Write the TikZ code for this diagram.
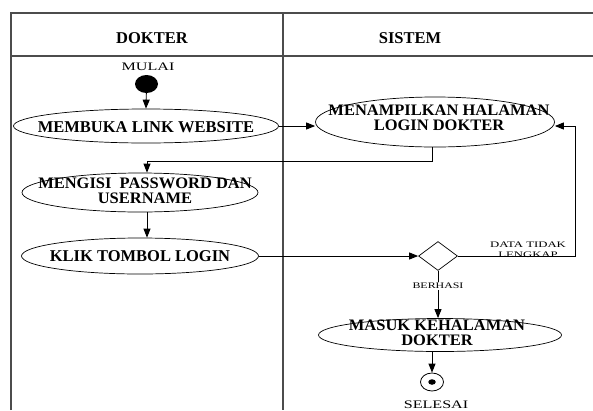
\documentclass[tikz,border=0pt]{standalone}
\usepackage{fontspec}
\usepackage{graphicx}
\setmainfont{Liberation Serif}
\usetikzlibrary{shapes.geometric,arrows.meta}
\newcommand\stretchtxt[2]{\scalebox{#1}[1]{#2}}
\begin{document}
\begin{tikzpicture}[x=1pt,y=-1pt,
  frame/.style={line width=1.1pt, draw=black!70},
  el/.style={ellipse, draw, line width=0.7pt, inner sep=0pt},
  bt/.style={font=\fontsize{16.5}{13}\selectfont\bfseries, align=center, inner sep=0pt},
  bt2/.style={font=\fontsize{16}{15.5}\selectfont\bfseries, align=center, inner sep=0pt},
  rt/.style={font=\fontsize{11.5}{13}\selectfont, inner sep=0pt},
  st/.style={font=\fontsize{8.5}{10}\selectfont, inner sep=0pt, align=center},
  arr/.style={-{Triangle[length=9pt,width=7pt]}, line width=0.9pt},
  ln/.style={line width=0.9pt}]
\useasboundingbox (0,0) rectangle (593,410);
% frame
\draw[frame] (11,410) -- (11,13) -- (593,13);
\draw[frame] (11,56) -- (593,56);
\draw[frame] (283,13) -- (283,410);
\node[bt] (hdok) at (152,38.5) {DOKTER};
\node[bt] (hsis) at (410,38.5) {SISTEM};
% nodes
\node[rt] (mulai) at (148,67) {\stretchtxt{1.4}{MULAI}};
\node[ellipse, fill=black, minimum width=23pt, minimum height=18pt, inner sep=0pt] (start) at (146.5,84) {};
\node[el, minimum width=265pt, minimum height=34pt] (membuka) at (146,126) {};
\node[bt] (tmembuka) at (146,127) {MEMBUKA LINK WEBSITE};
\node[el, minimum width=239pt, minimum height=50pt] (menampilkan) at (435,122) {};
\node[bt2] (tmenampilkan) at (439,118) {\stretchtxt{1.03}{MENAMPILKAN HALAMAN}\\\stretchtxt{1.03}{LOGIN DOKTER}};
\node[el, minimum width=236pt, minimum height=39pt] (mengisi) at (140,192.5) {};
\node[bt2] (tmengisi) at (145,191) {\stretchtxt{1.03}{MENGISI~ PASSWORD DAN}\\\stretchtxt{1.03}{USERNAME}};
\node[el, minimum width=237pt, minimum height=36pt] (klik) at (140,256) {};
\node[bt] (tklik) at (140,256) {KLIK TOMBOL LOGIN};
\node[diamond, draw, line width=0.7pt, minimum width=39pt, minimum height=29pt, inner sep=0pt] (dec) at (438,256) {};
\node[el, minimum width=243pt, minimum height=33pt] (masuk) at (440,335) {};
\node[bt2] (tmasuk) at (437,333) {\stretchtxt{1.03}{MASUK KEHALAMAN}\\\stretchtxt{1.03}{DOKTER}};
\node[el, minimum width=23pt, minimum height=18pt, line width=0.8pt] (endc) at (432,382) {};
\node[ellipse, fill=black, minimum width=7.5pt, minimum height=5.5pt, inner sep=0pt] (endd) at (endc) {};
\node[rt] (selesai) at (436,404.5) {\stretchtxt{1.4}{SELESAI}};
% connectors
\coordinate (c1) at (432,161);
\coordinate (c2) at (147,161);
\coordinate (c3) at (575,126);
\draw[arr] (start) -- (membuka.north);
\draw[arr] (membuka.east) -- (membuka.east -| menampilkan.west);
\draw[ln] (menampilkan.south -| c1) -- (c1) -- (c2);
\draw[arr] (c2) -- (c2 |- mengisi.north);
\draw[arr] (mengisi.south -| c2) -- (klik.north -| c2);
\draw[arr] (klik.east) -- (dec.west);
\draw[arr] (dec.east) -| (c3) -- (c3 -| menampilkan.east);
\draw[arr] (dec.south) -- (dec.south |- masuk.north);
\draw[arr] (masuk.south -| endc) -- (endc.north);
\node[st, fill=white, inner sep=1.5pt] (berhasi) at (438,286) {\stretchtxt{1.4}{BERHASI}};
\node[st] (tidak) at (528,249.5) {\stretchtxt{1.5}{DATA TIDAK}\\\stretchtxt{1.5}{LENGKAP}};
\end{tikzpicture}
\end{document}
